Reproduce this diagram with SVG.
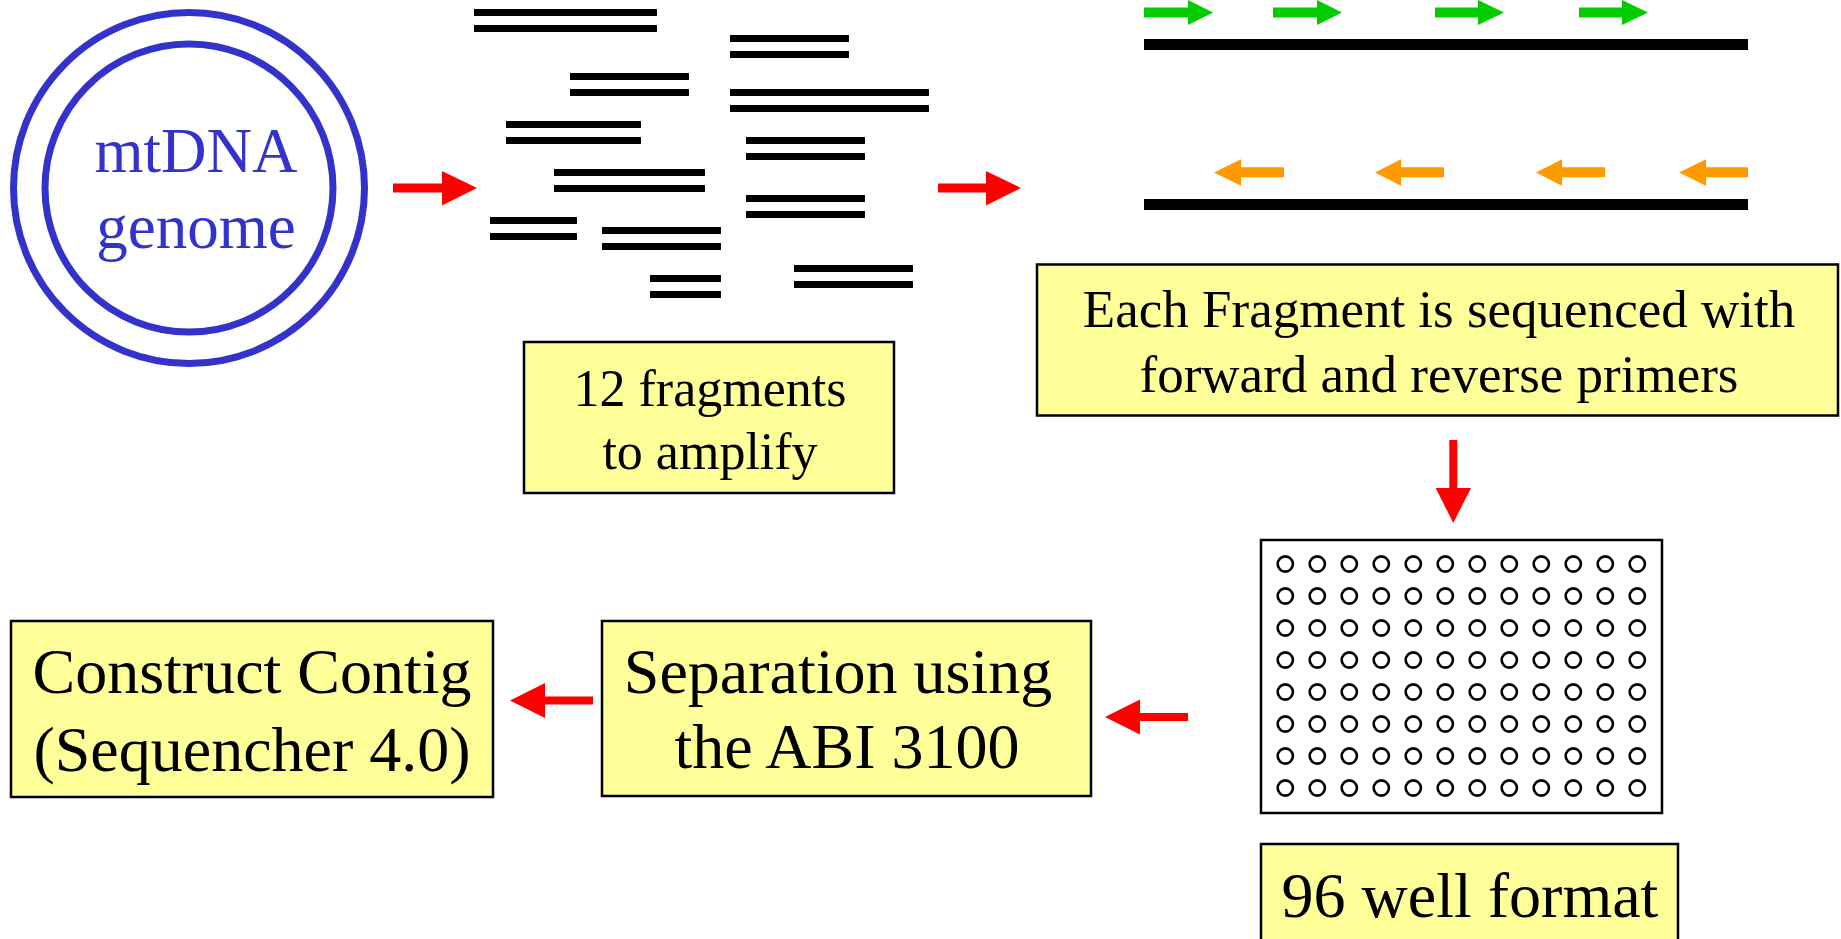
<svg xmlns="http://www.w3.org/2000/svg" xmlns:xlink="http://www.w3.org/1999/xlink" width="1841" height="939" viewBox="0 0 1841 939">
<style>
text{font-family:"Liberation Serif","Times New Roman",serif;fill:#000;text-anchor:middle}
.box{fill:#FFFF99;stroke:#000;stroke-width:2.5}
.ring{fill:none;stroke:#3333CC;stroke-width:7}
.frag{fill:#000}
.red{fill:#FF0000}
.grn{fill:#00CC00}
.org{fill:#FF9900}
.well{fill:none;stroke:#000;stroke-width:2.6}
</style>
<defs>
<g id="wellrow">
<circle class="well" cx="1285.3" cy="0" r="7.6"/><circle class="well" cx="1317.3" cy="0" r="7.6"/><circle class="well" cx="1349.3" cy="0" r="7.6"/><circle class="well" cx="1381.3" cy="0" r="7.6"/><circle class="well" cx="1413.3" cy="0" r="7.6"/><circle class="well" cx="1445.3" cy="0" r="7.6"/><circle class="well" cx="1477.3" cy="0" r="7.6"/><circle class="well" cx="1509.3" cy="0" r="7.6"/><circle class="well" cx="1541.3" cy="0" r="7.6"/><circle class="well" cx="1573.3" cy="0" r="7.6"/><circle class="well" cx="1605.3" cy="0" r="7.6"/><circle class="well" cx="1637.3" cy="0" r="7.6"/>
</g>
</defs>
<rect width="1841" height="939" fill="#fff"/>

<g id="mtdna">
<circle class="ring" cx="189" cy="188" r="175.5"/>
<circle class="ring" cx="189" cy="188" r="144"/>
<text x="196" y="172" font-size="63" style="fill:#3333CC">mtDNA</text>
<text x="196" y="248" font-size="63" style="fill:#3333CC">genome</text>
</g>

<g id="fragments">
<rect class="frag" x="474" y="9" width="183" height="7"/><rect class="frag" x="474" y="25" width="183" height="7"/>
<rect class="frag" x="730" y="35" width="119" height="7"/><rect class="frag" x="730" y="51" width="119" height="7"/>
<rect class="frag" x="570" y="73" width="119" height="7"/><rect class="frag" x="570" y="89" width="119" height="7"/>
<rect class="frag" x="730" y="89" width="199" height="7"/><rect class="frag" x="730" y="105" width="199" height="7"/>
<rect class="frag" x="506" y="121" width="135" height="7"/><rect class="frag" x="506" y="137" width="135" height="7"/>
<rect class="frag" x="746" y="137" width="119" height="7"/><rect class="frag" x="746" y="153" width="119" height="7"/>
<rect class="frag" x="554" y="169" width="151" height="7"/><rect class="frag" x="554" y="185" width="151" height="7"/>
<rect class="frag" x="746" y="195" width="119" height="7"/><rect class="frag" x="746" y="211" width="119" height="7"/>
<rect class="frag" x="490" y="217" width="87" height="7"/><rect class="frag" x="490" y="233" width="87" height="7"/>
<rect class="frag" x="602" y="227" width="119" height="7"/><rect class="frag" x="602" y="243" width="119" height="7"/>
<rect class="frag" x="650" y="275" width="71" height="7"/><rect class="frag" x="650" y="291" width="71" height="7"/>
<rect class="frag" x="794" y="265" width="119" height="7"/><rect class="frag" x="794" y="281" width="119" height="7"/>
</g>

<g id="fragments-label">
<rect class="box" x="524" y="342" width="370" height="151"/>
<text x="710" y="406" font-size="52">12 fragments</text>
<text x="710" y="469" font-size="52">to amplify</text>
</g>

<g id="primers">
<rect class="frag" x="1144" y="39" width="604" height="11"/>
<rect class="frag" x="1144" y="199" width="604" height="11"/>
<polygon class="grn" points="1144,7.5 1188,7.5 1188,0 1213,12.5 1188,25 1188,17.5 1144,17.5"/>
<polygon class="grn" points="1273,7.5 1317,7.5 1317,0 1342,12.5 1317,25 1317,17.5 1273,17.5"/>
<polygon class="grn" points="1435,7.5 1478,7.5 1478,0 1504,12.5 1478,25 1478,17.5 1435,17.5"/>
<polygon class="grn" points="1579,7.5 1622,7.5 1622,0 1648,12.5 1622,25 1622,17.5 1579,17.5"/>
<polygon class="org" points="1284,167.3 1241,167.3 1241,159.3 1214,172.5 1241,185.7 1241,177.3 1284,177.3"/>
<polygon class="org" points="1444,167.3 1401,167.3 1401,159.3 1375,172.5 1401,185.7 1401,177.3 1444,177.3"/>
<polygon class="org" points="1605,167.3 1562,167.3 1562,159.3 1536,172.5 1562,185.7 1562,177.3 1605,177.3"/>
<polygon class="org" points="1748,167.3 1706,167.3 1706,159.3 1679,172.5 1706,185.7 1706,177.3 1748,177.3"/>
</g>

<g id="sequenced-label">
<rect class="box" x="1037" y="264.5" width="801" height="151"/>
<text x="1439" y="327" font-size="53">Each Fragment is sequenced with</text>
<text x="1439" y="392" font-size="53">forward and reverse primers</text>
</g>

<g id="plate">
<rect x="1261" y="540" width="401" height="273" fill="#fff" stroke="#000" stroke-width="2.5"/>
<use xlink:href="#wellrow" y="564"/>
<use xlink:href="#wellrow" y="596"/>
<use xlink:href="#wellrow" y="628"/>
<use xlink:href="#wellrow" y="660"/>
<use xlink:href="#wellrow" y="692"/>
<use xlink:href="#wellrow" y="724"/>
<use xlink:href="#wellrow" y="756"/>
<use xlink:href="#wellrow" y="788"/>
</g>

<g id="well-format-label">
<rect class="box" x="1261" y="844" width="417" height="120"/>
<text x="1470" y="917" font-size="64">96 well format</text>
</g>

<g id="separation">
<rect class="box" x="602" y="621" width="489" height="175"/>
<text x="838" y="693" font-size="64">Separation using</text>
<text x="847" y="768" font-size="64">the ABI 3100</text>
</g>

<g id="contig">
<rect class="box" x="11" y="621" width="482" height="176"/>
<text x="252" y="693" font-size="64">Construct Contig</text>
<text x="252" y="771" font-size="64">(Sequencher 4.0)</text>
</g>

<g id="connectors">
<polygon class="red" points="393,183.5 442,183.5 442,171 477,188 442,205.5 442,192.5 393,192.5"/>
<polygon class="red" points="938,183.5 986,183.5 986,171 1021,188 986,205.5 986,192.5 938,192.5"/>
<polygon class="red" points="1449.3,440 1457.3,440 1457.3,488 1471,488 1453.3,523 1435.7,488 1449.3,488"/>
<polygon class="red" points="1188,713 1140,713 1140,699.5 1105,717 1140,734.5 1140,721 1188,721"/>
<polygon class="red" points="593,696.5 545,696.5 545,683 510,700.5 545,718 545,704.5 593,704.5"/>
</g>
</svg>
